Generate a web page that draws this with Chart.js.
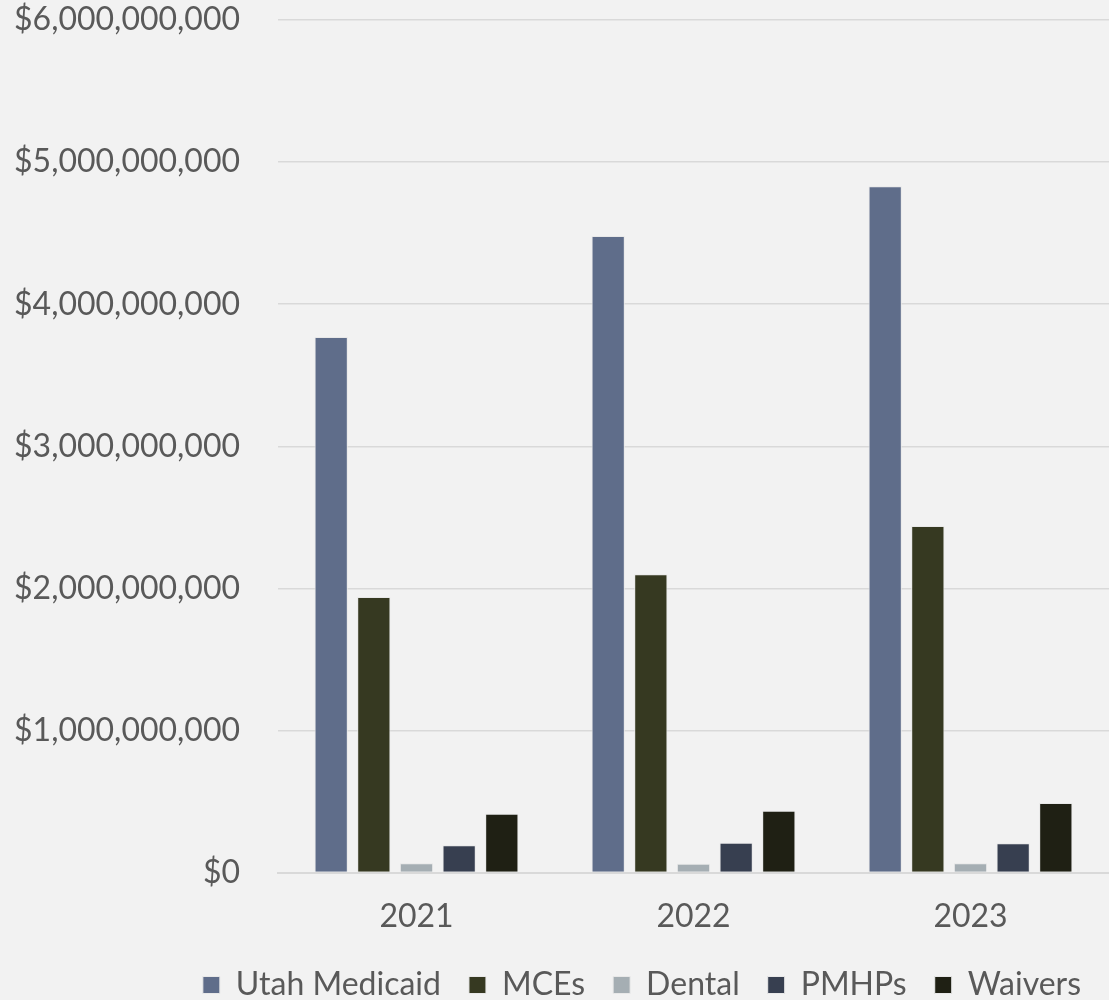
<!DOCTYPE html>
<html>
<head>
<meta charset="utf-8">
<script src="https://cdn.jsdelivr.net/npm/chart.js@4"></script>
<style>
    html, body { margin: 0; padding: 0; background: #f2f2f2; }
    #wrap { width: 1109px; height: 1000px; }
</style>
</head>
<body>
<div id="wrap"><canvas id="spendChart"></canvas></div>
<script>
const years = ['2021', '2022', '2023'];
const utahMedicaid = [3770000000, 4480000000, 4830000000];
const mces = [1940000000, 2100000000, 2440000000];
const dental = [66000000, 62000000, 66000000];
const pmhps = [193000000, 210000000, 207000000];
const waivers = [414000000, 436000000, 489000000];
const yTicks = [0, 1000000000, 2000000000, 3000000000, 4000000000, 5000000000, 6000000000];

const textColor = '#595959';
const fontFamily = 'Lato, "Open Sans", sans-serif';

function series(label, data, color) {
    return {
        label: label,
        data: data,
        backgroundColor: color,
        borderColor: '#e8e8e8',
        borderWidth: 1,
        barPercentage: 0.78,
        categoryPercentage: 0.77
    };
}

new Chart(document.getElementById('spendChart').getContext('2d'), {
    type: 'bar',
    data: {
        labels: years,
        datasets: [
            series('Utah Medicaid', utahMedicaid, '#5f6d8a'),
            series('MCEs', mces, '#363921'),
            series('Dental', dental, '#a5aeb3'),
            series('PMHPs', pmhps, '#373f50'),
            series('Waivers', waivers, '#1f2014')
        ]
    },
    options: {
        responsive: true,
        maintainAspectRatio: false,
        animation: false,
        layout: {
            // legend sits a little lower than chart.js would put it
            padding: { top: 0, right: 0, bottom: -11, left: 0 }
        },
        plugins: {
            legend: {
                position: 'bottom',
                align: 'end',
                labels: {
                    color: textColor,
                    boxWidth: 17,
                    boxHeight: 17,
                    padding: 28,
                    font: { family: fontFamily, size: 32 }
                }
            },
            tooltip: { enabled: false }
        },
        scales: {
            x: {
                grid: { display: false, drawTicks: false },
                border: { display: true, color: '#d9d9d9', width: 2 },
                ticks: {
                    color: textColor,
                    padding: 25,
                    font: { family: fontFamily, size: 32 }
                },
                afterFit: axis => {
                    axis.height -= 20;
                }
            },
            y: {
                min: 0,
                max: 6000000000,
                afterBuildTicks: axis => {
                    axis.ticks = yTicks.map(v => ({ value: v }));
                },
                afterFit: axis => {
                    // keep the label gap wide without pushing the plot top down
                    axis.width = 278;
                    axis.paddingTop = 20;
                    axis.paddingBottom = 0;
                },
                grid: { color: '#d9d9d9', lineWidth: 1.5, drawTicks: false },
                border: { display: false },
                ticks: {
                    color: textColor,
                    padding: 38,
                    font: { family: fontFamily, size: 32 },
                    callback: value => '$' + value.toLocaleString('en-US')
                }
            }
        }
    }
});
</script>
</body>
</html>
